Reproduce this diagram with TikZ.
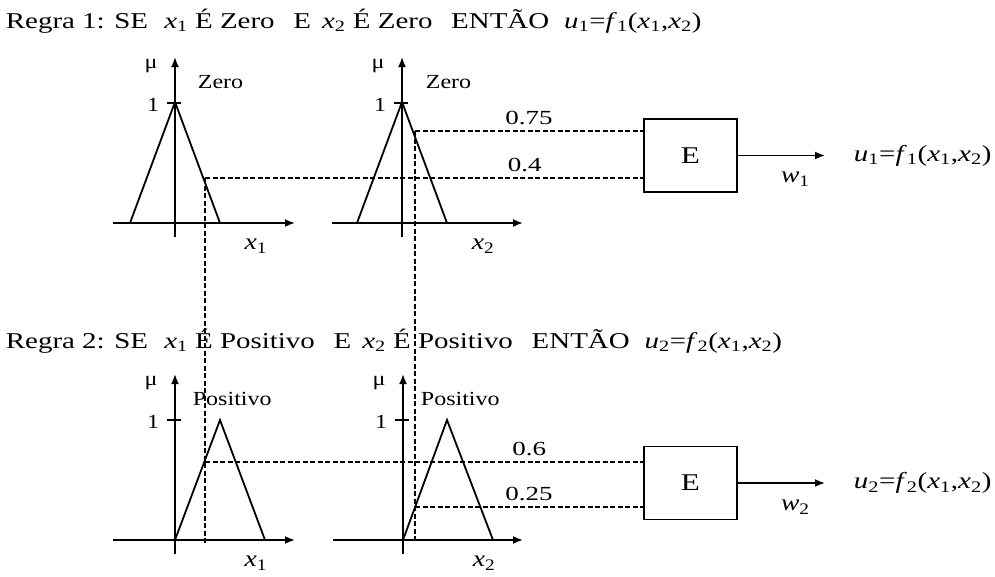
\documentclass[tikz,border=0pt]{standalone}
\usepackage{fontspec}
\setmainfont{Liberation Serif}
\usetikzlibrary{arrows.meta}

\newcommand{\vx}[2]{\textit{#1}\textsubscript{#2}}
\newcommand{\hs}[2][1.2]{\scalebox{#1}[1]{#2}}

\begin{document}
\begin{tikzpicture}[x=1pt,y=-1pt,line width=1.8pt,
    eixo/.style={-{Latex[length=10pt,width=8pt]}},
    tracejado/.style={dash pattern=on 5pt off 2.5pt, line width=2.8pt},
    rot/.style={font=\fontsize{20}{24}\selectfont, inner sep=0pt},
    grande/.style={font=\fontsize{23}{27}\selectfont, inner sep=0pt},
    titulo/.style={font=\fontsize{22.6}{27}\selectfont, anchor=base west, inner sep=0pt},
    bloco/.style={draw, minimum width=93pt, minimum height=73pt, font=\fontsize{24}{28}\selectfont}]
    \useasboundingbox (0,0) rectangle (995,576);

    % Regras
    \node[titulo] (r1) at (5,28) {\hs[1.28]{Regra 1: SE\hspace{7pt} \vx{x}{1} É Zero\hspace{9pt} E\hspace{3pt} \vx{x}{2} É Zero\hspace{9pt} ENTÃO\hspace{6pt} \vx{u}{1}=\vx{f}{1}(\vx{x}{1},\vx{x}{2})}};
    \node[titulo] (r2) at (5,348) {\hs[1.28]{Regra 2: SE\hspace{7pt} \vx{x}{1} É Positivo\hspace{9pt} E\hspace{3pt} \vx{x}{2} É Positivo\hspace{9pt} ENTÃO\hspace{6pt} \vx{u}{2}=\vx{f}{2}(\vx{x}{1},\vx{x}{2})}};

    % Eixos
    \foreach \ox/\oy/\xl/\xr/\n/\mf/\dm in {175/223/62/120/1/Zero/22, 402/223/70/121/2/Zero/23, 175/540/62/120/1/Positivo/17, 403/540/70/120/2/Positivo/17} {
        \draw[eixo] (\ox-\xl,\oy) -- (\ox+\xr,\oy);
        \draw[eixo] (\ox,\oy+14) -- (\ox,\oy-166);
        \draw (\ox-8,\oy-120) -- (\ox+6,\oy-120);
        \node[rot, anchor=base] at (\ox-22,\oy-112) {\hs{1}};
        \node[rot] at (\ox-24,\oy-157) {\hs{μ}};
        \node[rot, anchor=base west] at (\ox+\dm,\oy-135) {\hs{\mf}};
        \node[grande] at (\ox+81,\oy+23) {\hs{\vx{x}{\n}}};
    }

    % Funcoes de pertinencia
    \draw (130,223) -- (175,102) -- (220,223);
    \draw (357,223) -- (402,102) -- (447,223);
    \draw (175,540) -- (220,420) -- (265,540);
    \draw (403,540) -- (447,420) -- (493,540);

    % Blocos E
    \node[bloco] (b1) at (690.5,155.5) {\hs[1.3]{E}};
    \node[bloco] (b2) at (690.5,483) {\hs[1.3]{E}};

    \coordinate (p1) at (205,178);
    \coordinate (p2) at (415,131);
    \coordinate (q1) at (205,462);
    \coordinate (q2) at (415,507);
    \coordinate (a1) at (205,543);
    \coordinate (a2) at (415,543);

    \draw[tracejado] (p1) -- (a1);
    \draw[tracejado] (p2) -- (a2);
    \draw[tracejado] (p1) -- (p1 -| b1.west) node[rot, pos=0.73, above=5pt] {\hs[1.35]{0.4}};
    \draw[tracejado] (p2) -- (p2 -| b1.west) node[rot, pos=0.5, above=5pt] {\hs[1.35]{0.75}};
    \draw[tracejado] (q1) -- (q1 -| b2.west) node[rot, pos=0.74, above=5pt] {\hs[1.35]{0.6}};
    \draw[tracejado] (q2) -- (q2 -| b2.west) node[rot, pos=0.5, above=5pt] {\hs[1.35]{0.25}};

    % Saidas
    \coordinate (s1) at (825,155.5);
    \coordinate (s2) at (825,483);
    \draw[-{Latex[length=10pt,width=8pt]}] (b1) -- (s1) node[grande, pos=0.66, below=16pt] {\hs{\vx{w}{1}}};
    \draw[-{Latex[length=10pt,width=8pt]}] (b2) -- (s2) node[grande, pos=0.66, below=16pt] {\hs{\vx{w}{2}}};
    \node[grande, anchor=west] (u1) at (853,155.5) {\hs[1.26]{\vx{u}{1}=\vx{f}{1}(\vx{x}{1},\vx{x}{2})}};
    \node[grande, anchor=west] (u2) at (853,483) {\hs[1.26]{\vx{u}{2}=\vx{f}{2}(\vx{x}{1},\vx{x}{2})}};
\end{tikzpicture}
\end{document}
